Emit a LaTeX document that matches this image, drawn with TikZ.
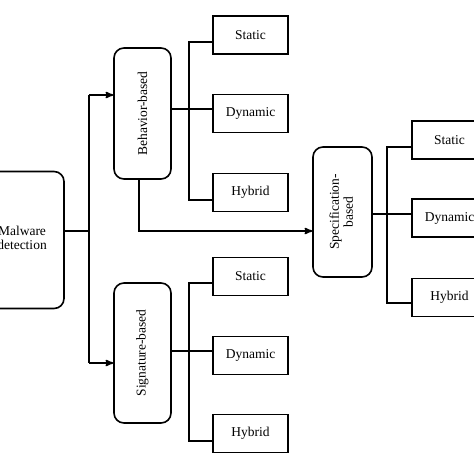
\documentclass[tikz,border=0pt]{standalone}
\usepackage{fontspec}
\setmainfont{Liberation Serif}
\usetikzlibrary{arrows}
\tikzset{
  category/.style={
    % The shape:
    rectangle,
    rounded corners=10pt,
    % The border:
    draw=black,
    line width=1.6pt,
    % The text:
    align=center,
    inner sep=0pt},
  leaf/.style={
    % The shape:
    rectangle,
    minimum width=75pt,
    minimum height=38pt,
    % The rest
    draw=black,line width=1.6pt,
    inner sep=0pt},
}
\begin{document}
\begin{tikzpicture}[x=1pt,y=-1pt,>=stealth',line width=1.6pt,
                    font=\fontsize{13.5}{17}\selectfont]
  \useasboundingbox (0,0) rectangle (474,474);
  \clip (0,0) rectangle (474,474);

  % main boxes
  \node (malware)   [category,minimum width=84pt,minimum height=137pt] at (22,240)
        {\raisebox{14pt}{\begin{tabular}{@{}c@{}}Malware\\[-3pt]detection\end{tabular}}};
  \node (behavior)  [category,minimum width=57pt,minimum height=131pt] at (142.5,113.5)
        {\rotatebox{90}{Behavior-based}};
  \node (signature) [category,minimum width=57pt,minimum height=140pt] at (142.5,353)
        {\rotatebox{90}{Signature-based}};
  \node (spec)      [category,minimum width=59pt,minimum height=130pt] at (342.5,212)
        {\rotatebox{90}{\begin{tabular}{@{}c@{}}Specification-\\[-3pt]based\end{tabular}}};

  % leaves
  \node (bstatic)  [leaf] at (250.5,35)    {Static};
  \node (bdynamic) [leaf] at (250.5,113.5) {Dynamic};
  \node (bhybrid)  [leaf] at (250.5,192.5) {Hybrid};
  \node (sstatic)  [leaf] at (250.5,276.5) {Static};
  \node (sdynamic) [leaf] at (250.5,355.5) {Dynamic};
  \node (shybrid)  [leaf] at (250.5,433.5) {Hybrid};
  \node (pstatic)  [leaf] at (449.5,140)   {Static};
  \node (pdynamic) [leaf] at (449.5,218)   {Dynamic};
  \node (phybrid)  [leaf] at (449.5,297.5) {Hybrid};

  % junctions
  \coordinate (mj) at (89,231);
  \coordinate (mt) at (89,95);
  \coordinate (mb) at (89,363);
  \coordinate (bj) at (189,109);
  \coordinate (bt) at (189,42);
  \coordinate (bb) at (189,200);
  \coordinate (sj) at (189,351);
  \coordinate (st) at (189,283);
  \coordinate (sb) at (189,441);
  \coordinate (pj) at (387,214);
  \coordinate (pt) at (387,147);
  \coordinate (pb) at (387,303);
  \coordinate (bs) at (139,231);

  % trunk
  \draw (malware.east |- mj) -- (mj);
  \draw (mt) -- (mb);
  \draw[->] (mt) -- (behavior.west |- mt);
  \draw[->] (mb) -- (signature.west |- mb);
  \draw[->] (behavior.south -| bs) -- (bs) -- (spec.west |- bs);

  % branches
  \draw (behavior.east |- bj) -- (bdynamic.west |- bj);
  \draw (bstatic.west |- bt) -| (bb) -- (bhybrid.west |- bb);
  \draw (signature.east |- sj) -- (sdynamic.west |- sj);
  \draw (sstatic.west |- st) -| (sb) -- (shybrid.west |- sb);
  \draw (spec.east |- pj) -- (pdynamic.west |- pj);
  \draw (pstatic.west |- pt) -| (pb) -- (phybrid.west |- pb);
\end{tikzpicture}
\end{document}
